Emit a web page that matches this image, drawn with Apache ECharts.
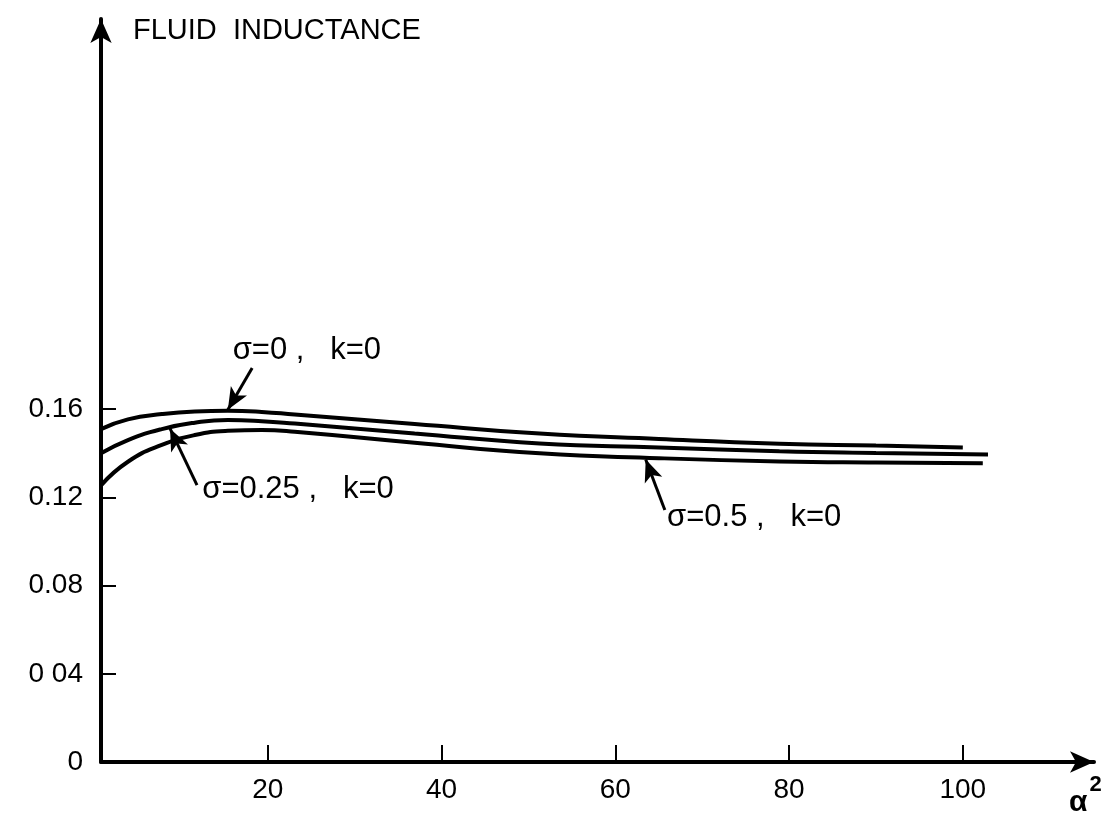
<!DOCTYPE html>
<html>
<head>
<meta charset="utf-8">
<script src="https://cdn.jsdelivr.net/npm/echarts@6/dist/echarts.min.js"></script>
<style>html,body{margin:0;padding:0;background:#fff;}#c{width:1111px;height:827px;}</style>
</head>
<body>
<div id="c"></div>
<script>
// ---- data ----
const xTicks = [20, 40, 60, 80, 100];
const yTicks = [0, 0.04, 0.08, 0.12, 0.16];
const yTickLabels = ['0', '0 04', '0.08', '0.12', '0.16'];

const a_s0 = [0.8, 3.9, 7.8, 11.6, 15.4, 19.3, 23.1, 36.9, 51.3, 65, 78.9, 90, 100];
const v_s0 = [0.151, 0.1554, 0.1578, 0.159, 0.1593, 0.1588, 0.1576, 0.1533, 0.149, 0.1465, 0.1444, 0.1435, 0.1427];

const a_s025 = [0.8, 3.9, 7.8, 11.6, 15.4, 19.3, 23.1, 36.9, 51.3, 65, 78.9, 90, 102.9];
const v_s025 = [0.140, 0.146, 0.151, 0.1539, 0.1551, 0.1546, 0.1535, 0.149, 0.1445, 0.1427, 0.141, 0.1402, 0.1395];

const a_s05 = [0.8, 3.9, 7.8, 11.6, 15.4, 19.3, 23.1, 36.9, 51.3, 65, 78.9, 90, 102.3];
const v_s05 = [0.1255, 0.1362, 0.1438, 0.1483, 0.1502, 0.1506, 0.1498, 0.1448, 0.140, 0.1378, 0.1363, 0.1358, 0.1355];

const seriesNames = ['σ=0 ,   k=0', 'σ=0.25 ,   k=0', 'σ=0.5 ,   k=0'];
// annotation: [label anchor], [arrow tail], [arrow tip] in data units
const labelPos = [[15.9, 0.1865], [12.4, 0.1234], [65.9, 0.1107]];
const arrowTail = [[18.2, 0.1787], [11.85, 0.1256], [65.7, 0.1143]];
const arrowTip = [[15.4, 0.1598], [8.75, 0.1512], [63.5, 0.1372]];

const FONT = '"Liberation Sans", Arial, sans-serif';

function pairs(xs, ys) { return xs.map((x, i) => [x, ys[i]]); }
const curves = [pairs(a_s0, v_s0), pairs(a_s025, v_s025), pairs(a_s05, v_s05)];

const chart = echarts.init(document.getElementById('c'));
chart.setOption({
  backgroundColor: '#fff',
  animation: false,
  title: [
    { text: 'FLUID  INDUCTANCE', left: 128, top: 11,
      textStyle: { fontFamily: FONT, fontSize: 29, fontWeight: 'normal', color: '#000' } },
    { text: '{a|α}{s|2}', left: 1064, top: 769,
      textStyle: { rich: {
        a: { fontFamily: FONT, fontSize: 30, color: '#000', padding: [14, 0, 0, 0] },
        s: { fontFamily: FONT, fontSize: 22, color: '#000', verticalAlign: 'top', padding: [0, 0, 14, 2] }
      } } }
  ],
  grid: { left: 101, right: 17, top: 19, bottom: 65, containLabel: false },
  xAxis: {
    type: 'value', min: 0.8, max: 115.1,
    splitLine: { show: false },
    axisLine: { lineStyle: { color: '#000', width: 4 }, symbol: ['none', 'arrow'], symbolSize: [16, 24] },
    axisTick: { show: true, inside: true, length: 17, customValues: xTicks, lineStyle: { color: '#000', width: 2 } },
    axisLabel: { customValues: xTicks, fontFamily: FONT, fontSize: 28, color: '#000', margin: 14 }
  },
  yAxis: {
    type: 'value', min: 0, max: 0.337,
    splitLine: { show: false },
    axisLine: { lineStyle: { color: '#000', width: 4 }, symbol: ['none', 'arrow'], symbolSize: [16, 24] },
    axisTick: { show: true, inside: true, length: 15, customValues: yTicks, lineStyle: { color: '#000', width: 2 } },
    axisLabel: { customValues: yTicks, fontFamily: FONT, fontSize: 28, color: '#000', margin: 18,
      formatter: function (v) {
        const i = yTicks.findIndex(t => Math.abs(t - v) < 1e-9);
        return i >= 0 ? yTickLabels[i] : '';
      } }
  },
  series: curves.map((d, i) => ({
    type: 'line', name: seriesNames[i], data: d, smooth: 0.5, symbol: 'none',
    lineStyle: { color: '#000', width: 4 },
    markLine: {
      silent: true, symbol: ['none', 'arrow'], symbolSize: [14, 22],
      lineStyle: { color: '#000', width: 3, type: 'solid' },
      label: { show: false },
      data: [[{ coord: arrowTail[i] }, { coord: arrowTip[i] }]]
    },
    markPoint: {
      silent: true, symbol: 'circle', symbolSize: 1, itemStyle: { color: 'rgba(0,0,0,0)' },
      label: { show: true, position: 'right', distance: 0, formatter: seriesNames[i],
        fontFamily: FONT, fontSize: 31, color: '#000' },
      data: [{ coord: labelPos[i] }]
    }
  }))
});
</script>
</body>
</html>
